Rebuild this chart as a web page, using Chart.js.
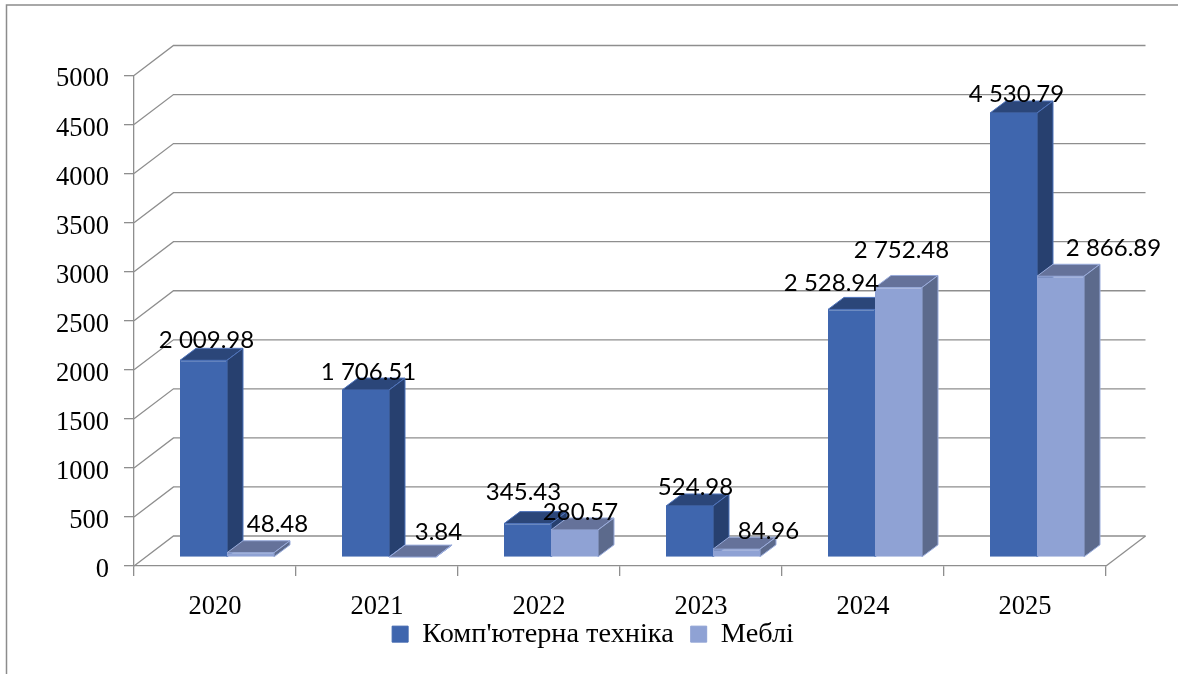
<!DOCTYPE html>
<html><head><meta charset="utf-8">
<style>html,body{margin:0;padding:0;background:#fff;overflow:hidden}canvas{display:block}</style>
<script src="https://cdn.jsdelivr.net/npm/chart.js@4"></script>
</head><body><canvas id="c" width="1178" height="674" style="width:1178px;height:674px"></canvas>
<script>
const categories = ['2020','2021','2022','2023','2024','2025'];
const computerLabel = "Комп'ютерна техніка";
const furnitureLabel = 'Меблі';
const computerValues = [2009.98,1706.51,345.43,524.98,2528.94,4530.79];
const furnitureValues = [48.48,3.84,280.57,84.96,2752.48,2866.89];
const yMax = 5000, yStep = 500;

// label nudges relative to each bar's top-centre
const computerNudge = [[3,-20],[3,-18],[-4,-31],[6,-19],[-20,-26],[3,-19]];
const furnitureNudge = [[27,-28],[26,-25],[6,-18],[32,-18],[3,-37],[53,-28]];

const WALL = {dx:39.5, dy:-30};
const BAR_SHIFT = {x:12, y:-8.5};
const DEPTH = {dx:16, dy:-12};
const GRID = '#8e8e8e';
const styles = [
  {front:'#3F66AE', top:'#2B4679', side:'#27406F', edge:'#4F74BC'},
  {front:'#8FA2D4', top:'#65729A', side:'#5C6A8C', edge:'#9AACDC'}
];
function fmt(v){
  const [a,b] = v.toFixed(2).split('.');
  return a.replace(/\B(?=(\d{3})+$)/g,' ') + '.' + b;
}
function poly(ctx, pts, fill, edge){
  ctx.beginPath();
  pts.forEach((p,i)=> i? ctx.lineTo(p[0],p[1]) : ctx.moveTo(p[0],p[1]));
  ctx.closePath();
  ctx.fillStyle = fill; ctx.fill();
  ctx.strokeStyle = edge; ctx.lineWidth = 1; ctx.stroke();
}
const scene = {
  id:'scene',
  afterLayout(chart){
    const l = chart.legend;
    l.left = 2; l.right = 1184; l.top = 603; l.bottom = 674;
  },
  beforeDraw(chart){
    chart.scales.y.getLabelItems().forEach(it=>{ it.textOffset = 4; });
  },
  beforeDatasetsDraw(chart){
    const ctx = chart.ctx, y = chart.scales.y, a = chart.chartArea;
    // outer frame
    ctx.save();
    ctx.strokeStyle = '#8c8c8c'; ctx.lineWidth = 1.5;
    ctx.beginPath(); ctx.moveTo(6.5,674); ctx.lineTo(6.5,5); ctx.lineTo(1178,5); ctx.stroke();
    // walls
    ctx.strokeStyle = GRID; ctx.lineWidth = 1.3;
    y.ticks.forEach(t=>{
      const py = y.getPixelForValue(t.value);
      ctx.beginPath();
      ctx.moveTo(a.left,py);
      ctx.lineTo(a.left+WALL.dx,py+WALL.dy);
      ctx.lineTo(a.right+WALL.dx,py+WALL.dy);
      ctx.stroke();
    });
    const p0 = y.getPixelForValue(0);
    ctx.beginPath();
    ctx.moveTo(a.right,p0); ctx.lineTo(a.right+WALL.dx,p0+WALL.dy); ctx.stroke();
    // extruded faces, back to front, series by series
    ctx.translate(BAR_SHIFT.x,BAR_SHIFT.y);
    chart.data.datasets.forEach((ds,di)=>{
      const s = styles[di];
      chart.getDatasetMeta(di).data.forEach(el=>{
        const p = el.getProps(['x','y','base','width']);
        const l = p.x-p.width/2, r = p.x+p.width/2, t = p.y, b = p.base;
        const dx = DEPTH.dx, dy = DEPTH.dy;
        poly(ctx,[[l,t],[l+dx,t+dy],[r+dx,t+dy],[r,t]],s.top,s.edge);
        poly(ctx,[[r,t],[r+dx,t+dy],[r+dx,b+dy],[r,b]],s.side,s.edge);
      });
    });
    ctx.restore();
    ctx.save();
    ctx.translate(BAR_SHIFT.x,BAR_SHIFT.y);
  },
  afterDatasetsDraw(chart){
    const ctx = chart.ctx;
    ctx.restore();
    ctx.save();
    ctx.font = '24px Lato';
    ctx.fillStyle = '#000';
    ctx.textAlign = 'center';
    ctx.textBaseline = 'middle';
    const nudges = [computerNudge,furnitureNudge];
    chart.data.datasets.forEach((ds,di)=>{
      chart.getDatasetMeta(di).data.forEach((el,i)=>{
        const p = el.getProps(['x','y']);
        const n = nudges[di][i];
        ctx.fillText(fmt(ds.data[i]), p.x+BAR_SHIFT.x+n[0], p.y+BAR_SHIFT.y+n[1]);
      });
    });
    ctx.restore();
  }
};
new Chart(document.getElementById('c'),{
  type:'bar',
  plugins:[scene],
  data:{labels:categories,datasets:[
    {label:computerLabel,data:computerValues,backgroundColor:styles[0].front,borderColor:styles[0].front,borderWidth:1},
    {label:furnitureLabel,data:furnitureValues,backgroundColor:styles[1].front,borderColor:styles[1].front,borderWidth:1}
  ]},
  options:{
    responsive:false, animation:false,
    layout:{padding:{top:75.5,right:72,left:0,bottom:0}},
    datasets:{bar:{categoryPercentage:94/162,barPercentage:1}},
    plugins:{
      title:{display:false},tooltip:{enabled:false},
      legend:{position:'bottom',labels:{boxWidth:16,boxHeight:16,padding:17,color:'#000',font:{family:'Liberation Serif',size:28.3}}}
    },
    scales:{
      x:{
        afterFit(s){s.height=108-s.chart.legend.height},
        grid:{drawOnChartArea:false,color:GRID,tickLength:10,lineWidth:1.3},
        border:{color:GRID,width:1.3},
        ticks:{color:'#000',padding:15,maxRotation:0,font:{family:'Liberation Serif',size:26.5}}
      },
      y:{
        min:0,max:yMax,
        afterFit(s){s.width=134},
        grid:{drawOnChartArea:false,color:GRID,tickLength:10,lineWidth:1.3},
        border:{color:GRID,width:1.3},
        ticks:{stepSize:yStep,color:'#000',padding:15,font:{family:'Liberation Serif',size:26.5},callback:v=>String(v)}
      }
    }
  }
});
</script></body></html>
